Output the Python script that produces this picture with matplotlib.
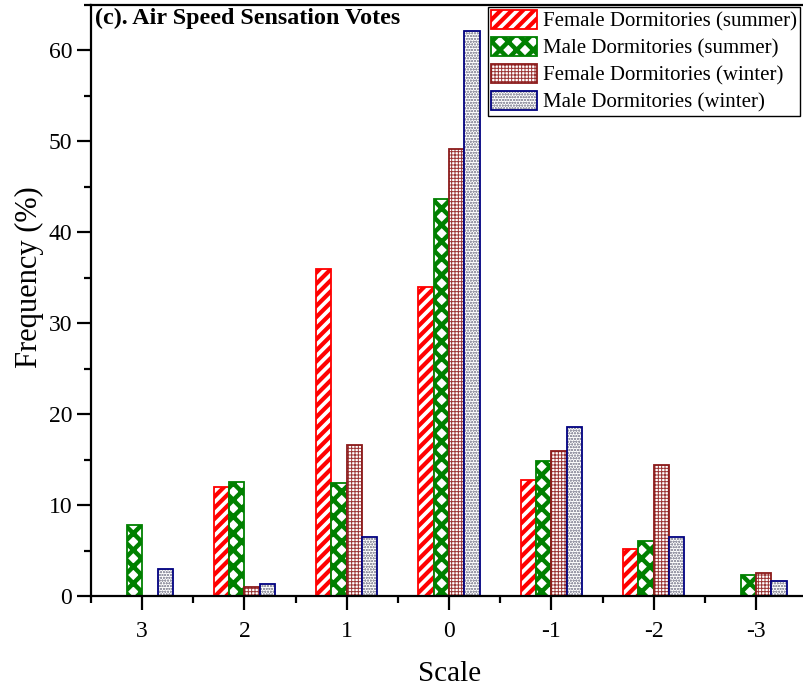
import numpy as np
import matplotlib.pyplot as plt
from matplotlib.patches import Patch, Rectangle
from matplotlib.ticker import MultipleLocator

plt.rcParams['font.family'] = ['Liberation Serif', 'DejaVu Serif']

scale = ["3", "2", "1", "0", "-1", "-2", "-3"]
female_summer = [0, 12.0, 36.0, 34.0, 12.7, 5.2, 0]
male_summer = [7.8, 12.5, 12.4, 43.6, 14.8, 6.0, 2.3]
female_winter = [0, 1.0, 16.6, 49.2, 15.9, 14.4, 2.5]
male_winter = [3.0, 1.3, 6.5, 62.1, 18.6, 6.5, 1.7]

series = [
    ("Female Dormitories (summer)", female_summer, "red", "red", "///", 3.0),
    ("Male Dormitories (summer)", male_summer, "green", "green", "xx", 3.2),
    ("Female Dormitories (winter)", female_winter, "#8b1a1a", "#9a3333", "+++++", 0.7),
    ("Male Dormitories (winter)", male_winter, "navy", "#9a9aa8", "oooooo", 0.6),
]
hatch_lw = {s[4]: s[5] for s in series}

fig = plt.figure(figsize=(8.04, 6.89), dpi=100)
ax = fig.add_axes([0.1132, 0.135, 0.8908, 0.858])

x = np.arange(len(scale))
w = 0.15
handles = []
for i, (name, vals, edge, hcol, hatch, hlw) in enumerate(series):
    pos = x + (i - 1.5) * w
    with plt.rc_context({'hatch.linewidth': hlw}):
        ax.bar(pos, vals, w, color="white", edgecolor=hcol, hatch=hatch, linewidth=0)
        hp = Patch(facecolor="white", edgecolor=hcol, hatch=hatch, linewidth=0)
    ax.bar(pos, vals, w, fill=False, edgecolor=edge, linewidth=1.3)
    op = Patch(fill=False, edgecolor=edge, linewidth=1.3)
    handles.append((hp, op))

ax.set_xlim(-0.5, 6.5)
ax.set_ylim(0, 65)
ax.set_xticks(x)
ax.set_xticklabels(scale)
ax.xaxis.set_minor_locator(MultipleLocator(0.5))
ax.yaxis.set_major_locator(MultipleLocator(10))
ax.yaxis.set_minor_locator(MultipleLocator(5))
ax.tick_params(which='major', direction='out', length=10, width=1.6, labelsize=17)
ax.tick_params(which='minor', direction='out', length=5, width=1.6)
ax.tick_params(axis='x', pad=8)
for s in ax.spines.values():
    s.set_linewidth(1.6)

ax.set_xlabel("Scale", fontsize=21, labelpad=14)
ax.set_ylabel("Frequency (%)", fontsize=22, labelpad=3)
ax.yaxis.label.set_y(0.54)
ax.text(0.006, 0.995, "(c). Air Speed Sensation Votes", transform=ax.transAxes,
        fontsize=17.3, fontweight='bold', va='top', ha='left')

leg = ax.legend(handles, [s[0] for s in series], loc='upper right',
                bbox_to_anchor=(0.990, 0.9963), fontsize=15,
                frameon=True, fancybox=False, edgecolor='black', framealpha=1,
                handlelength=2.2, handleheight=1.0, handletextpad=0.3,
                labelspacing=0.27, borderpad=0.15, borderaxespad=0)
leg.get_frame().set_linewidth(1.0)
for r in leg.findobj(Rectangle):
    h = r.get_hatch()
    if h in hatch_lw and hasattr(r, "set_hatch_linewidth"):
        r.set_hatch_linewidth(hatch_lw[h])

fig.savefig("out.png", dpi=100)
